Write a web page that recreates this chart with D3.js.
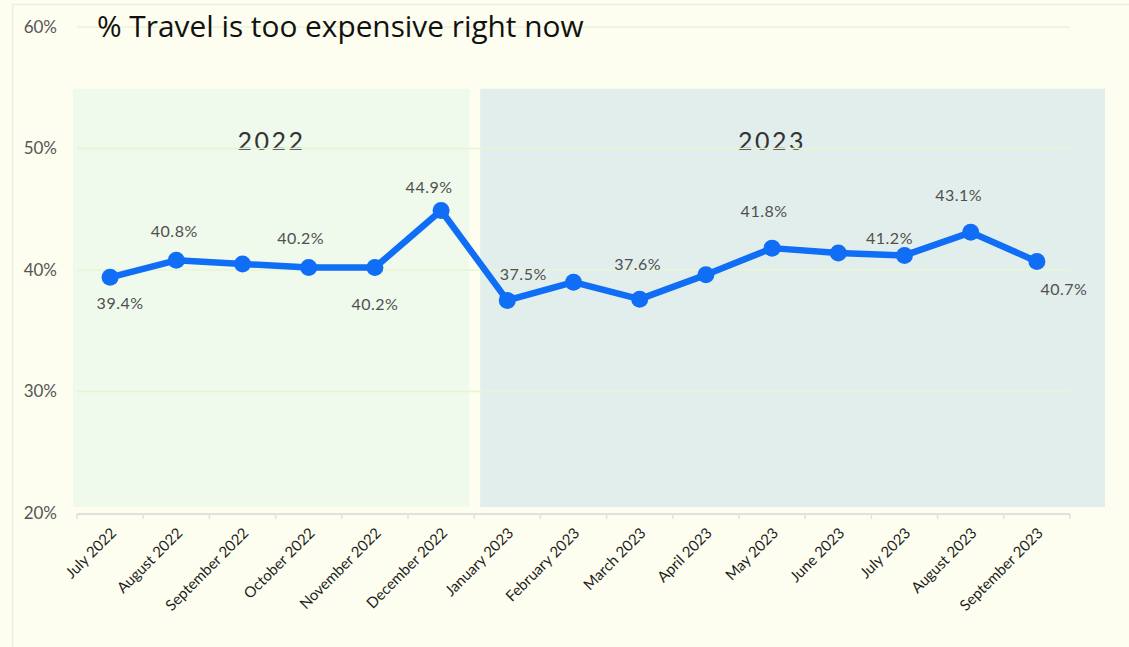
<!DOCTYPE html>
<html>
<head>
<meta charset="utf-8">
<script src="https://cdn.jsdelivr.net/npm/d3@7"></script>
<style>
  html, body { margin: 0; padding: 0; background: #fdfeef; }
  svg { display: block; }
</style>
</head>
<body>
<svg id="chart" width="1129" height="647"></svg>
<script>
// Monthly share of respondents saying travel is too expensive right now
const months = [
  "July 2022", "August 2022", "September 2022", "October 2022", "November 2022",
  "December 2022", "January 2023", "February 2023", "March 2023", "April 2023",
  "May 2023", "June 2023", "July 2023", "August 2023", "September 2023"
];
const shares = [39.4, 40.8, 40.5, 40.2, 40.2, 44.9, 37.5, 39.0, 37.6, 39.6, 41.8, 41.4, 41.2, 43.1, 40.7];
// which points carry a value label
const labelled = [true, true, false, true, true, true, true, false, true, false, true, false, true, true, true];
const yTicks = [20, 30, 40, 50, 60];
const years = ["2022", "2023"];
const yearStart = ["July 2022", "January 2023"];
const yearEnd = ["December 2022", "September 2023"];

// label placement relative to each point (px)
const labelOffset = [
  [10, 26], [-2, -29], [0, 0], [-8, -29], [0, 37], [-12, -23], [16, -26], [0, 0],
  [-2, -35], [0, 0], [-8, -37], [0, 0], [-15, -17], [-12, -37], [27, 28]
];

const svg = d3.select("#chart");
const W = 1129, H = 647;

const x = d3.scaleBand().domain(months).range([77, 1070]).padding(0);
const y = d3.scaleLinear().domain([20, 60]).range([513, 27]);
const bw = x.bandwidth();

// card outline
svg.append("rect")
  .attr("x", 12.5).attr("y", 4.5).attr("width", W + 20).attr("height", H + 20)
  .attr("fill", "#fdfeef").attr("stroke", "#eceee2").attr("stroke-width", 1.5);

// year shading
const shade = [
  { fill: "#eff9ec", x0: x(yearStart[0]) - 4, x1: x(yearEnd[0]) + bw - 5 },
  { fill: "#e2eeeb", x0: x(yearStart[1]) + 6, x1: x.range()[1] + 35 }
];
svg.append("g").selectAll("rect").data(years).join("rect")
  .attr("x", (d, i) => shade[i].x0)
  .attr("width", (d, i) => shade[i].x1 - shade[i].x0)
  .attr("y", y(55) + 1)
  .attr("height", y(20) - 6 - (y(55) + 1))
  .attr("fill", (d, i) => shade[i].fill);

// year captions
svg.append("g").selectAll("text").data(years).join("text")
  .attr("x", (d, i) => (x(yearStart[i]) + x(yearEnd[i]) + bw) / 2 - (i === 0 ? 4 : 0))
  .attr("y", 150)
  .attr("text-anchor", "middle")
  .attr("font-family", "Lato, sans-serif")
  .attr("font-size", 25)
  .attr("letter-spacing", 2.5)
  .attr("fill", "#333")
  .text(d => d);

// horizontal grid
svg.append("g").selectAll("line").data(yTicks.filter(t => t > 20)).join("line")
  .attr("x1", x.range()[0]).attr("x2", x.range()[1])
  .attr("y1", d => y(d)).attr("y2", d => y(d))
  .attr("stroke", "#e9f4d4").attr("stroke-width", 1.5);

// y axis labels
const yAxis = d3.axisLeft(y).tickValues(yTicks).tickSize(0).tickPadding(0).tickFormat(d => d + "%");
svg.append("g")
  .attr("transform", "translate(57,0)")
  .call(yAxis)
  .call(g => g.select(".domain").remove())
  .call(g => g.selectAll("text")
    .attr("font-family", "Lato, sans-serif")
    .attr("font-size", 17)
    .attr("fill", "#555"));

// x axis baseline and boundary ticks
const bounds = months.map(m => x(m)).concat([x.range()[1]]);
const xg = svg.append("g");
xg.append("line")
  .attr("x1", x.range()[0]).attr("x2", x.range()[1])
  .attr("y1", 514).attr("y2", 514)
  .attr("stroke", "#e2e2dc").attr("stroke-width", 2);
xg.selectAll("line.tick").data(bounds).join("line")
  .attr("class", "tick")
  .attr("x1", d => d).attr("x2", d => d)
  .attr("y1", 514).attr("y2", 519)
  .attr("stroke", "#e2e2dc").attr("stroke-width", 1.5);

// x axis month labels
const xAxis = d3.axisBottom(x).tickSize(0).tickPadding(0);
svg.append("g")
  .attr("transform", "translate(0,514)")
  .call(xAxis)
  .call(g => g.select(".domain").remove())
  .call(g => g.selectAll(".tick text")
    .attr("font-family", "Lato, sans-serif")
    .attr("font-size", 15)
    .attr("fill", "#1e1e1e")
    .attr("text-anchor", "end")
    .attr("dy", 0)
    .attr("transform", "translate(7,20) rotate(-45)"));

// title
svg.append("text")
  .attr("x", 97).attr("y", 37)
  .attr("font-family", "'Open Sans', sans-serif")
  .attr("font-size", 29.8)
  .attr("fill", "#111")
  .text("% Travel is too expensive right now");

// series line
const cx = i => x(months[i]) + bw / 2;
const line = d3.line().x((d, i) => cx(i)).y(d => y(d));
svg.append("path")
  .datum(shares)
  .attr("d", line)
  .attr("fill", "none")
  .attr("stroke", "#0f6ef5")
  .attr("stroke-width", 6.5)
  .attr("stroke-linejoin", "round");

svg.append("g").selectAll("circle").data(shares).join("circle")
  .attr("cx", (d, i) => cx(i))
  .attr("cy", d => y(d))
  .attr("r", 8.5)
  .attr("fill", "#0f6ef5");

// value labels
const labelIdx = shares.map((d, i) => i).filter(i => labelled[i]);
svg.append("g").selectAll("text").data(labelIdx).join("text")
  .attr("x", i => cx(i) + labelOffset[i][0])
  .attr("y", i => y(shares[i]) + labelOffset[i][1])
  .attr("dy", "0.35em")
  .attr("text-anchor", "middle")
  .attr("font-family", "Lato, sans-serif")
  .attr("font-size", 16)
  .attr("letter-spacing", 0.5)
  .attr("fill", "#505050")
  .text(i => shares[i].toFixed(1) + "%");
</script>
</body>
</html>
